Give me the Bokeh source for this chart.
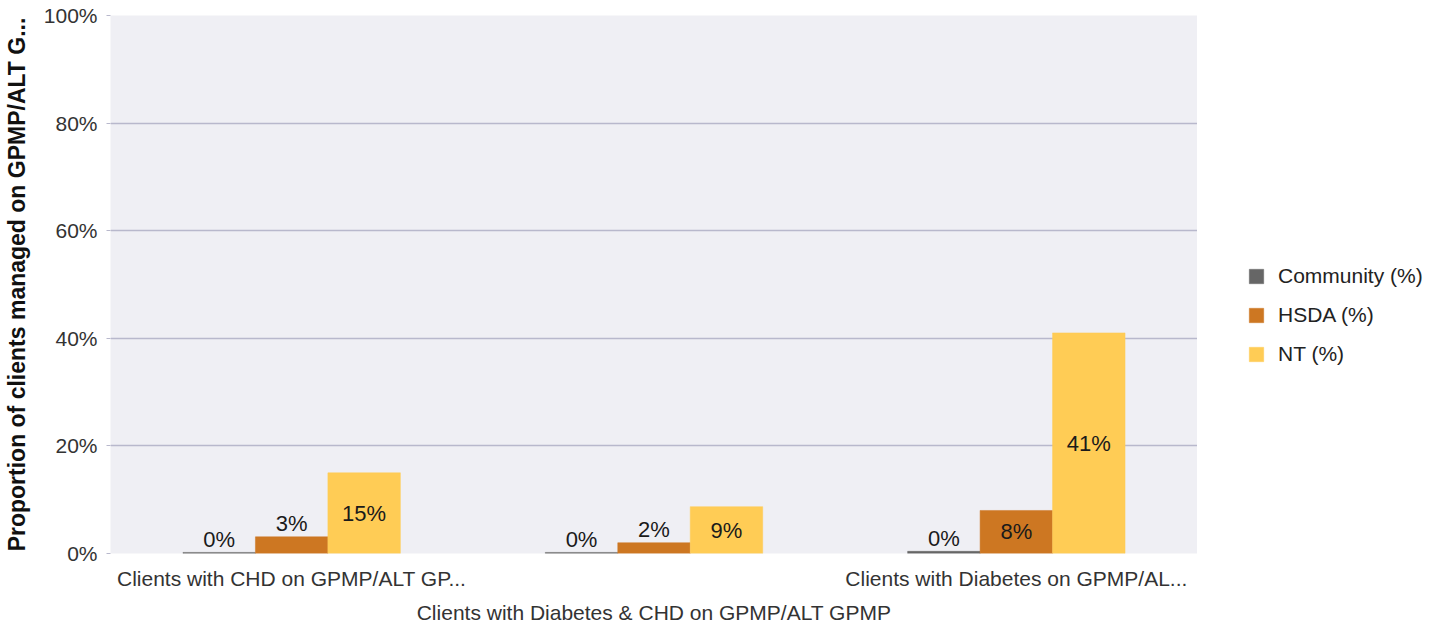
from bokeh.plotting import figure
from bokeh.layouts import row
from bokeh.models import (ColumnDataSource, FixedTicker, LinearAxis, Legend, LegendItem,
                          PrintfTickFormatter, Range1d)
from bokeh.core.properties import value
from bokeh.transform import dodge
from bokeh.embed import file_html
from bokeh.resources import INLINE

categories = ["Clients with CHD on GPMP/ALT GP...",
              "Clients with Diabetes & CHD on GPMP/ALT GPMP",
              "Clients with Diabetes on GPMP/AL..."]
series_names = ["Community (%)", "HSDA (%)", "NT (%)"]
community = [0.2, 0.2, 0.4]
hsda = [3.1, 2.0, 8.0]
nt = [15.0, 8.7, 41.0]
y_ticks = [0, 20, 40, 60, 80, 100]
colors = ["#666666", "#CD7722", "#FFCC55"]

FONT = "Liberation Sans"
GRID = "#B8B8CC"
H = 626

p = figure(width=1197, height=H, output_backend="svg", toolbar_location=None,
           x_range=Range1d(0, 3), y_range=Range1d(0, 100),
           x_axis_location=None, min_border_left=104, min_border_right=0,
           min_border_top=15, min_border_bottom=72)
p.background_fill_color = "#EFEFF4"
p.border_fill_color = "white"
p.outline_line_color = None
p.xgrid.visible = False
p.ygrid.ticker = FixedTicker(ticks=y_ticks)
p.ygrid.grid_line_color = GRID
p.ygrid.grid_line_width = 1.5

# legend panel (separate canvas to the right of the plot area)
p2 = figure(width=249, height=H, output_backend="svg", toolbar_location=None,
            x_range=Range1d(0, 3), y_range=Range1d(0, 100),
            x_axis_location=None, y_axis_location=None,
            min_border_left=0, min_border_right=0, min_border_top=0, min_border_bottom=0)
p2.background_fill_color = "white"
p2.border_fill_color = "white"
p2.outline_line_color = None
p2.grid.visible = False

xc = [i + 0.5 for i in range(len(categories))]
offsets = [-0.2, 0.0, 0.2]
series = [community, hsda, nt]
items = []
for name, vals, col, off in zip(series_names, series, colors, offsets):
    inside = [v >= 5 for v in vals]
    src = ColumnDataSource(dict(
        x=xc, top=vals,
        label=[f"{v:.0f}%" for v in vals],
        ly=[v / 2 if ins else v for v, ins in zip(vals, inside)],
        yoff=[0 if ins else -13 for ins in inside],
    ))
    p.vbar(x=dodge("x", off, range=p.x_range), top="top", bottom=0, width=0.2,
           source=src, fill_color=col, line_color=col, line_width=0.5)
    p.text(x=dodge("x", off, range=p.x_range), y="ly", text="label", y_offset="yoff",
           source=src, text_align="center", text_baseline="middle",
           text_font=value(FONT), text_font_size="22px", text_color="#1a1a1a")
    r2 = p2.vbar(x="x", top="top", bottom=0, width=0.2, source=src,
                 fill_color=col, line_color=col, line_width=0.5, visible=False)
    items.append(LegendItem(label=name, renderers=[r2]))

# y axis
ya = p.yaxis[0]
ya.ticker = FixedTicker(ticks=y_ticks)
ya.formatter = PrintfTickFormatter(format="%d%%")
ya.axis_line_color = None
ya.major_tick_out = 4
ya.major_tick_in = 0
ya.major_tick_line_color = GRID
ya.minor_tick_line_color = None
ya.major_label_standoff = 9
ya.major_label_text_font = FONT
ya.major_label_text_font_size = "21px"
ya.major_label_text_color = "#333333"
ya.axis_label = "Proportion of clients managed on GPMP/ALT G..."
ya.axis_label_text_font = FONT
ya.axis_label_text_font_style = "bold"
ya.axis_label_text_font_size = "23px"
ya.axis_label_text_color = "#111111"
ya.axis_label_standoff = 11

# x axis: outer categories as tick labels, middle category staggered below
xa = LinearAxis(ticker=FixedTicker(ticks=[xc[0], xc[2]]),
                major_label_overrides={xc[0]: categories[0], xc[2]: categories[2]})
xa.axis_line_color = None
xa.major_tick_line_color = None
xa.major_tick_out = 0
xa.major_tick_in = 0
xa.minor_tick_line_color = None
xa.minor_tick_out = 0
xa.major_label_standoff = 13
xa.major_label_text_font = FONT
xa.major_label_text_font_size = "21px"
xa.major_label_text_color = "#333333"
xa.axis_label = categories[1]
xa.axis_label_standoff = 8
xa.axis_label_text_font = FONT
xa.axis_label_text_font_size = "21px"
xa.axis_label_text_font_style = "normal"
xa.axis_label_text_color = "#333333"
p.add_layout(xa, "below")

legend = Legend(items=items, location=(50, 187), orientation="vertical",
                glyph_width=18, glyph_height=18, label_height=24, spacing=15,
                label_standoff=13, padding=0, margin=0,
                label_text_font=FONT, label_text_font_size="21px",
                label_text_color="#222222", border_line_color=None,
                background_fill_alpha=0, inactive_fill_alpha=0)
p2.add_layout(legend, "center")

layout = row(p, p2, spacing=0)
open("out.html", "w").write(file_html(layout, INLINE))
